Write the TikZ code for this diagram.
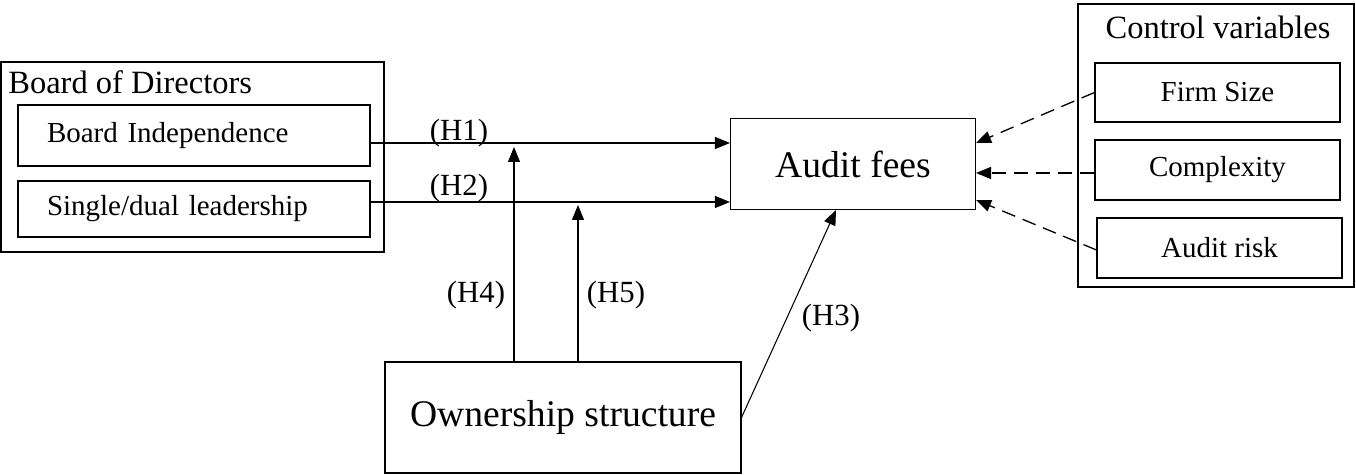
\documentclass[tikz,border=0pt]{standalone}
\usepackage{fontspec}
\setmainfont{Liberation Serif}
\usetikzlibrary{arrows.meta,arrows}
\usetikzlibrary{positioning}
\tikzset{
	group/.style={rectangle, draw, line width=1.1pt},
	var/.style={rectangle, draw, line width=0.6pt, font=\fontsize{16.5}{19}\selectfont},
	main/.style={rectangle, draw, line width=0.6pt, font=\fontsize{21.4}{25}\selectfont},
	title/.style={inner sep=0pt, font=\fontsize{18.5}{22}\selectfont},
	hyp/.style={inner sep=0pt, font=\fontsize{17.5}{21}\selectfont},
	arrow/.style={draw, -{Triangle[length=3mm, width=2.4mm]}, line width=0.6pt},
	ctrl/.style={draw, -{Triangle[length=3mm, width=2.4mm]}, line width=0.75pt, dash pattern=on 2.8mm off 1.6mm}
}

\begin{document}
\begin{tikzpicture}
\useasboundingbox (0,0) rectangle (27.12,9.5);

% board of directors
\draw[group] (0.02,8.26) rectangle (7.68,4.46);
\node[title, anchor=west] (bod) at (0.16,7.86) {Board of Directors};
\node[var, minimum width=7.04cm, minimum height=1.22cm, text width=5.88cm, inner xsep=0.58cm, align=left] (bi) at (3.88,6.79)
	{Board Independence};
\node[var, minimum width=7.04cm, minimum height=1.12cm, text width=5.88cm, inner xsep=0.58cm, align=left] (sdl) at (3.88,5.32)
	{Single/dual leadership};

% dependent and moderator
\node[main, minimum width=4.9cm, minimum height=1.82cm] (af) at (17.06,6.22) {Audit fees};
\node[main, minimum width=7.12cm, minimum height=2.22cm] (os) at (11.26,1.15) {Ownership structure};

% control variables
\draw[group] (21.56,9.42) rectangle (27.08,3.76);
\node[title] (cv) at (24.36,8.96) {Control variables};
\node[var, minimum width=4.9cm, minimum height=1.18cm] (fs) at (24.35,7.65) {Firm Size};
\node[var, minimum width=4.9cm, minimum height=1.2cm] (cx) at (24.35,6.1) {Complexity};
\node[var, minimum width=4.9cm, minimum height=1.2cm] (ar) at (24.39,4.54) {Audit risk};

\coordinate (h4end) at (10.28,6.56);
\coordinate (h5end) at (11.56,5.40);

\draw [arrow] ([yshift=-0.15cm]bi.east) -- ([yshift=-0.15cm]bi.east -| af.west);
\draw [arrow] ([yshift=0.14cm]sdl.east) -- ([yshift=0.14cm]sdl.east -| af.west);
\draw [arrow] (os.north -| h4end) -- (h4end);
\draw [arrow] (os.north -| h5end) -- (h5end);
\draw [arrow] (os.east) -- ([xshift=-0.34cm]af.south);

\draw [ctrl] (fs.west) -- ([yshift=0.42cm]af.east);
\draw [ctrl] ([yshift=-0.06cm]cx.west) -- ([yshift=-0.06cm]cx.west -| af.east);
\draw [ctrl] ([yshift=-0.04cm]ar.west) -- ([yshift=-0.72cm]af.east);

\node[hyp] (h1) at (9.18,6.84) {(H1)};
\node[hyp] (h2) at (9.18,5.74) {(H2)};
\node[hyp] (h3) at (16.62,3.14) {(H3)};
\node[hyp] (h4) at (9.52,3.6) {(H4)};
\node[hyp] (h5) at (12.32,3.6) {(H5)};

\end{tikzpicture}
\end{document}
